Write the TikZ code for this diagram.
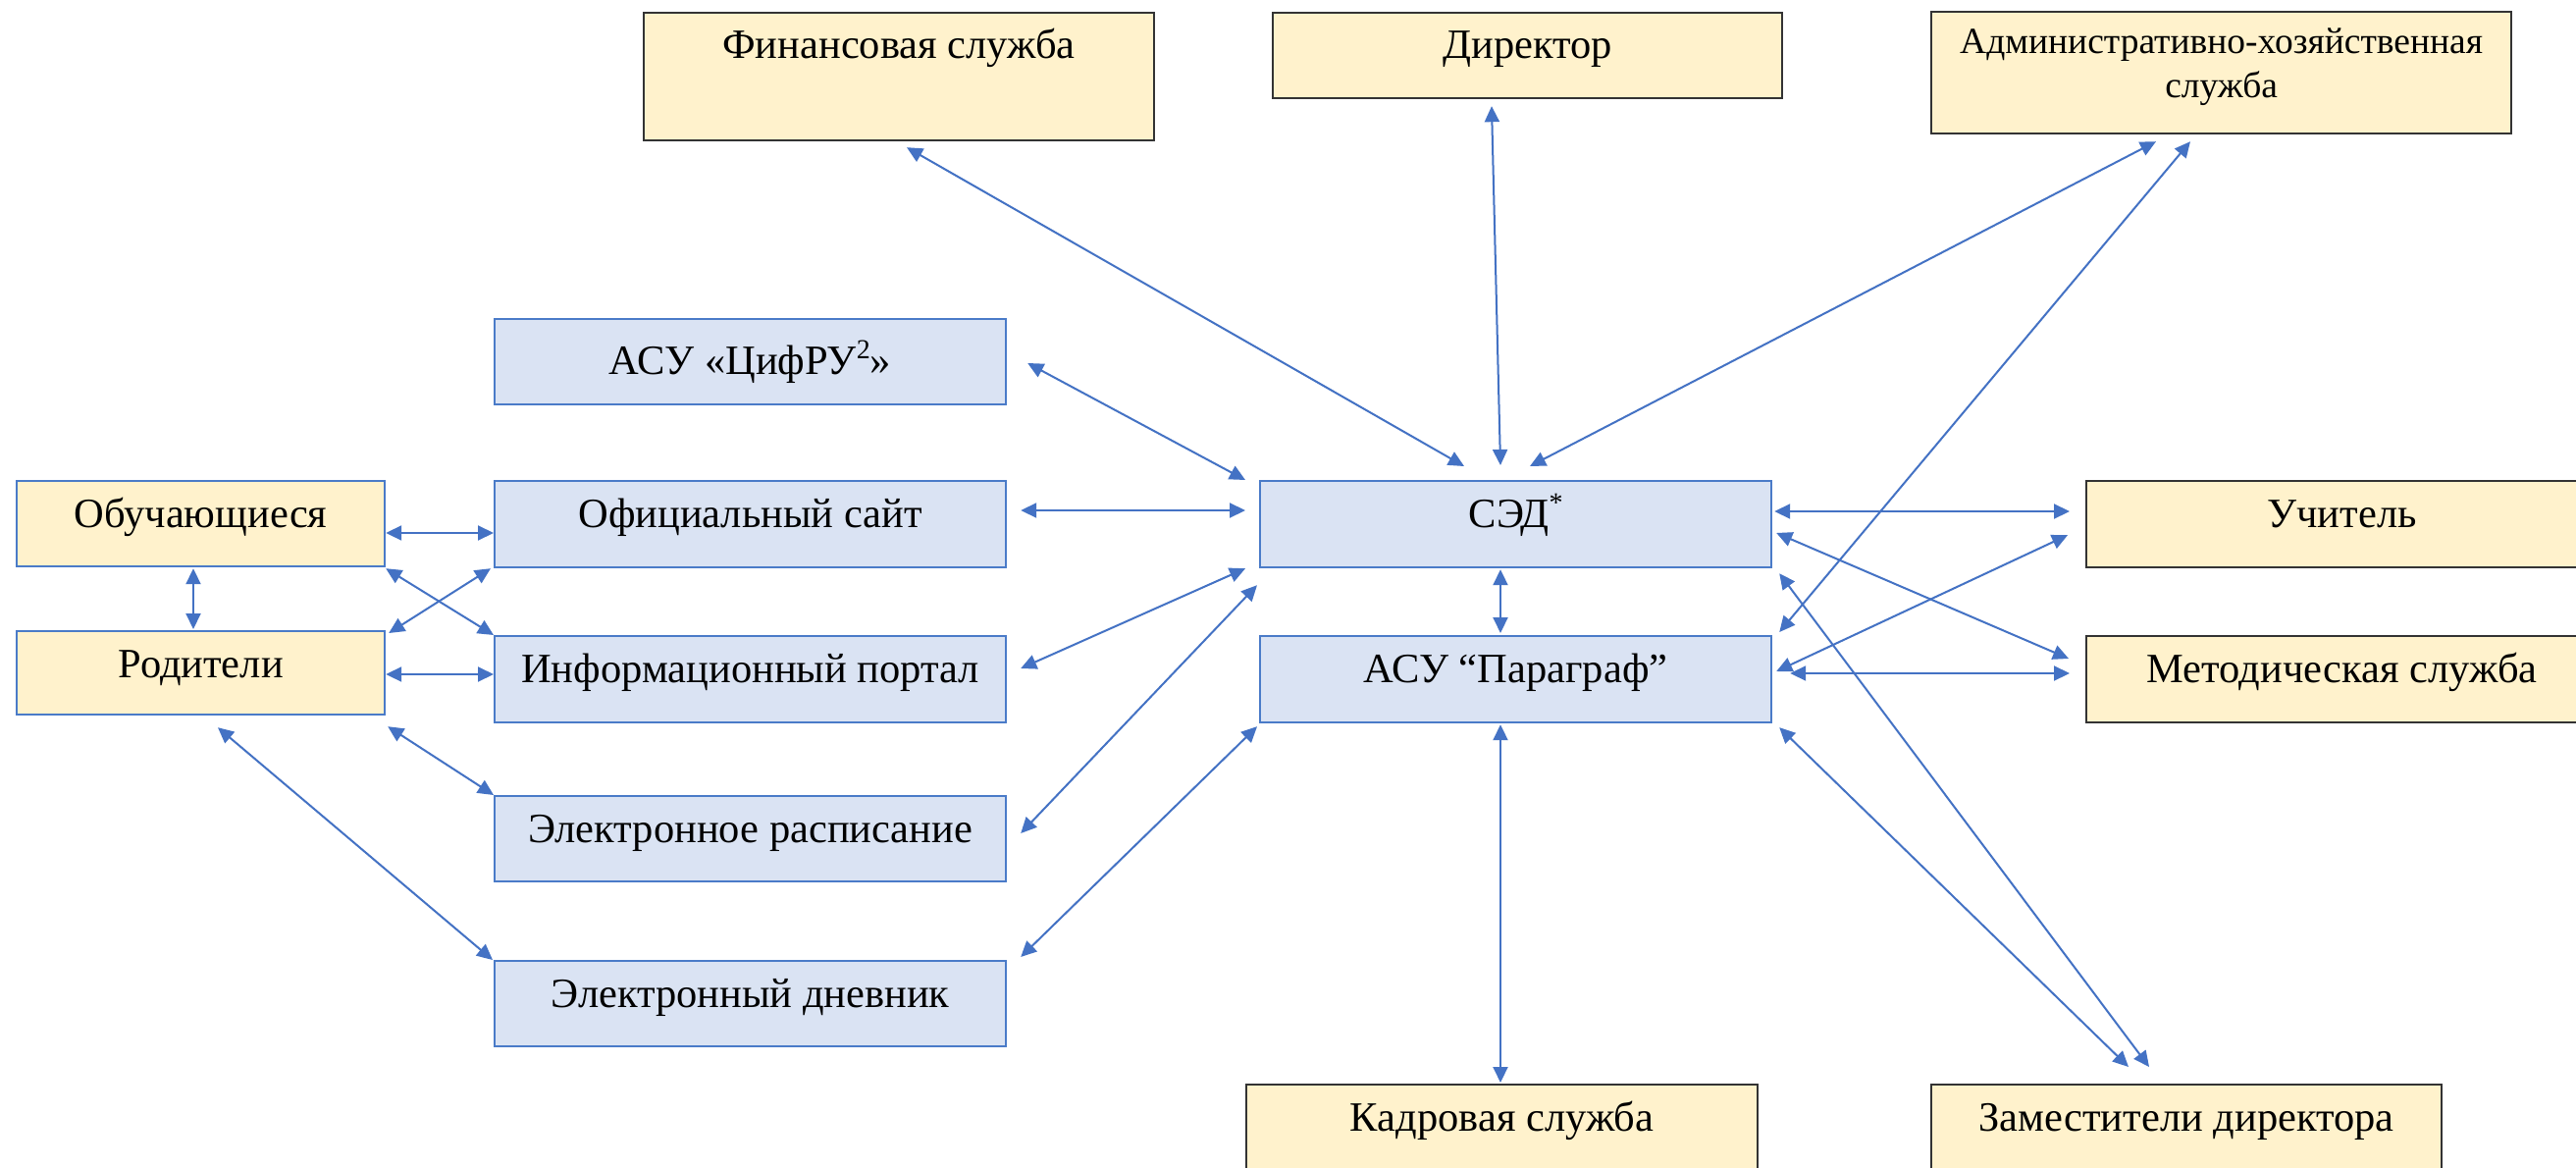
\documentclass[tikz,border=0pt]{standalone}
\usepackage{fontspec}
\setmainfont{Liberation Serif}
\usetikzlibrary{arrows.meta}
\definecolor{bfill}{HTML}{DAE3F3}
\definecolor{bline}{HTML}{4A7BC8}
\definecolor{yfill}{HTML}{FFF2CC}
\definecolor{yline}{HTML}{333333}
\definecolor{conncol}{HTML}{4472C4}
\newcommand\mysup[1]{\raisebox{0.36em}{\fontsize{28}{28}\selectfont #1}}
\tikzset{
  boxbase/.style={rectangle, inner sep=0pt, anchor=north west, line width=2.2pt},
  bluebox/.style={boxbase, fill=bfill, draw=bline},
  yelbox/.style={boxbase, fill=yfill, draw=yline},
  yelbbox/.style={boxbase, fill=yfill, draw=bline},
  lbl/.style={anchor=base, inner sep=0pt, font=\fontsize{42.5}{50}\selectfont},
  smlbl/.style={anchor=base, inner sep=0pt, font=\fontsize{37.5}{45}\selectfont},
  conn/.style={draw=conncol, line width=2pt,
    {Triangle[length=16pt,width=15pt]}-{Triangle[length=16pt,width=15pt]}}
}
\begin{document}
\begin{tikzpicture}[x=1pt,y=-1pt]
\useasboundingbox[fill=white] (0,0) rectangle (2625,1190);
% boxes
\node[yelbox, minimum width=520, minimum height=130] (fin) at (655,12) {};
\node[yelbox, minimum width=519, minimum height=87] (dir) at (1296,12) {};
\node[yelbox, minimum width=591, minimum height=124] (adm) at (1967,11) {};
\node[bluebox, minimum width=521, minimum height=87] (cif) at (503,324) {};
\node[bluebox, minimum width=521, minimum height=88] (sed) at (1283,489) {};
\node[yelbox, minimum width=521, minimum height=88] (uch) at (2125,489) {};
\node[yelbbox, minimum width=375, minimum height=87] (obu) at (16,489) {};
\node[bluebox, minimum width=521, minimum height=88] (off) at (503,489) {};
\node[yelbbox, minimum width=375, minimum height=85] (rod) at (16,642) {};
\node[bluebox, minimum width=521, minimum height=88] (inf) at (503,647) {};
\node[bluebox, minimum width=521, minimum height=87] (ras) at (503,810) {};
\node[bluebox, minimum width=521, minimum height=87] (dnv) at (503,978) {};
\node[bluebox, minimum width=521, minimum height=88] (par) at (1283,647) {};
\node[yelbox, minimum width=521, minimum height=88] (met) at (2125,647) {};
\node[yelbox, minimum width=521, minimum height=100] (kad) at (1269,1104) {};
\node[yelbox, minimum width=520, minimum height=100] (zam) at (1967,1104) {};
% labels
\node[lbl] (finT) at ([yshift=-48pt]fin.north) {Финансовая служба};
\node[lbl] (dirT) at ([yshift=-48pt]dir.north) {Директор};
\node[smlbl] (admT1) at ([yshift=-44pt]adm.north) {Административно-хозяйственная};
\node[smlbl] (admT2) at ([yshift=-89pt]adm.north) {служба};
\node[lbl] (cifT) at ([yshift=-57pt]cif.north) {АСУ «ЦифРУ\mysup{2}»};
\node[lbl] (sedT) at ([yshift=-48pt]sed.north) {СЭД\mysup{*}};
\node[lbl] (uchT) at ([yshift=-48pt]uch.north) {Учитель};
\node[lbl] (obuT) at ([yshift=-48pt]obu.north) {Обучающиеся};
\node[lbl] (offT) at ([yshift=-48pt]off.north) {Официальный сайт};
\node[lbl] (rodT) at ([yshift=-48pt]rod.north) {Родители};
\node[lbl] (infT) at ([yshift=-48pt]inf.north) {Информационный портал};
\node[lbl] (rasT) at ([yshift=-48pt]ras.north) {Электронное расписание};
\node[lbl] (dnvT) at ([yshift=-48pt]dnv.north) {Электронный дневник};
\node[lbl] (parT) at ([yshift=-48pt]par.north) {АСУ “Параграф”};
\node[lbl] (metT) at ([yshift=-48pt]met.north) {Методическая служба};
\node[lbl] (kadT) at ([yshift=-48pt]kad.north) {Кадровая служба};
\node[lbl] (zamT) at ([yshift=-48pt]zam.north) {Заместители директора};
% connectors
\draw[conn] ([shift={(269,6)}]fin.south west) -- ([shift={(209,-14)}]sed.north west);
\draw[conn] ([shift={(224,7)}]dir.south west) -- ([shift={(246,-15)}]sed.north west);
\draw[conn] ([shift={(230,7)}]adm.south west) -- ([shift={(276,-14)}]sed.north west);
\draw[conn] ([shift={(265,7)}]adm.south west) -- ([shift={(7,-3)}]par.north east);
\draw[conn] ([shift={(21,46)}]cif.north east) -- ([shift={(-14,0)}]sed.north west);
\draw[conn] ([shift={(14,31)}]off.north east) -- ([shift={(-14,31)}]sed.north west);
\draw[conn] ([shift={(14,34)}]inf.north east) -- ([shift={(-14,0)}]sed.south west);
\draw[conn] ([shift={(14,39)}]ras.north east) -- ([shift={(-2,17)}]sed.south west);
\draw[conn] ([shift={(14,-3)}]dnv.north east) -- ([shift={(-2,3)}]par.south west);
\draw[conn] ([shift={(0,54)}]obu.north east) -- ([shift={(0,54)}]off.north west);
\draw[conn] ([shift={(181,1)}]obu.south west) -- ([shift={(181,-1)}]rod.north west);
\draw[conn] ([shift={(0,1)}]obu.south east) -- (inf.north west);
\draw[conn] ([shift={(3,3)}]rod.north east) -- ([shift={(-3,0)}]off.south west);
\draw[conn] ([shift={(0,45)}]rod.north east) -- ([shift={(0,40)}]inf.north west);
\draw[conn] ([shift={(2,11)}]rod.south east) -- (ras.north west);
\draw[conn] ([shift={(206,12)}]rod.south west) -- ([shift={(-1,0)}]dnv.north west);
\draw[conn] ([shift={(246,1)}]sed.south west) -- ([shift={(246,-2)}]par.north west);
\draw[conn] ([shift={(2,32)}]sed.north east) -- ([shift={(-16,32)}]uch.north west);
\draw[conn] ([shift={(4,54)}]sed.north east) -- ([shift={(-17,24)}]met.north west);
\draw[conn] ([shift={(4,37)}]par.north east) -- ([shift={(-18,-34)}]uch.south west);
\draw[conn] ([shift={(18,39)}]par.north east) -- ([shift={(-16,39)}]met.north west);
\draw[conn] ([shift={(7,5)}]sed.south east) -- ([shift={(223,-17)}]zam.north west);
\draw[conn] ([shift={(7,4)}]par.south east) -- ([shift={(202,-17)}]zam.north west);
\draw[conn] ([shift={(246,1)}]par.south west) -- ([shift={(260,-1)}]kad.north west);
\end{tikzpicture}
\end{document}
